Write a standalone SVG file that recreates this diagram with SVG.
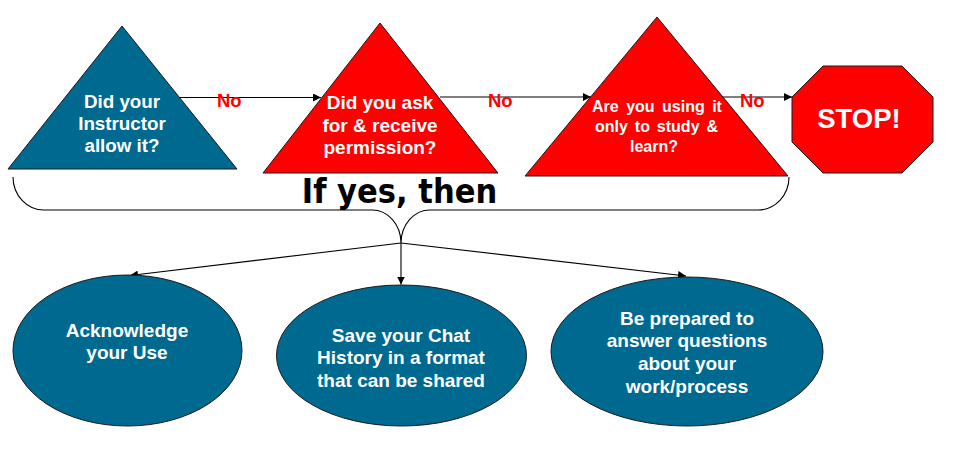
<svg xmlns="http://www.w3.org/2000/svg" width="960" height="453" viewBox="0 0 960 453">
<defs>
<style>
.blue{fill:#00698F;stroke:#1a1a1a;stroke-width:1}
.red{fill:#FF0000;stroke:#1a1a1a;stroke-width:1}
.t{font-family:"Liberation Sans",Arial,sans-serif;font-weight:bold;fill:#FFFFFF;text-anchor:middle}
.no{font-family:"Liberation Sans",Arial,sans-serif;font-weight:bold;fill:#FF0000;font-size:18.5px}
.ln{fill:none;stroke:#000;stroke-width:1.1}
</style>
<marker id="ah" viewBox="0 0 10 10" refX="10" refY="5" markerWidth="8" markerHeight="8" markerUnits="userSpaceOnUse" orient="auto">
<path d="M0,0 L10,5 L0,10 z" fill="#000"/>
</marker>
</defs>
<rect width="960" height="453" fill="#FFFFFF"/>
<g id="connectors">
<line class="ln" x1="180" y1="97.5" x2="321" y2="97.5" marker-end="url(#ah)"/>
<line class="ln" x1="440" y1="97" x2="591" y2="97" marker-end="url(#ah)" stroke="#555"/>
<line class="ln" x1="723" y1="97" x2="792" y2="97" marker-end="url(#ah)" stroke="#555"/>
<path class="ln" d="M13,177 A31,33 0 0 0 44,210 L372,210 A29,33 0 0 1 401,243 A29,33 0 0 1 430,210 L758,210 A31,33 0 0 0 789,177"/>
<line class="ln" x1="401" y1="243" x2="130" y2="275.5" marker-end="url(#ah)"/>
<line class="ln" x1="401" y1="243" x2="401" y2="284.5" marker-end="url(#ah)"/>
<line class="ln" x1="401" y1="243" x2="686" y2="276" marker-end="url(#ah)"/>
<text class="no" x="217" y="106.5">No</text>
<text class="no" x="488" y="106.5">No</text>
<text class="no" x="740" y="106.5">No</text>
<text x="399.5" y="203" font-family="'DejaVu Sans Condensed','DejaVu Sans',sans-serif" font-weight="bold" font-stretch="condensed" font-size="34" fill="#000" text-anchor="middle">If yes, then</text>
</g>
<g id="q1">
<polygon class="blue" points="122,26 237,169 8,169"/>
<text class="t" font-size="18.8"><tspan x="122" y="108">Did your</tspan><tspan x="122" y="130">Instructor</tspan><tspan x="122" y="152">allow it?</tspan></text>
</g>
<g id="q2">
<polygon class="red" points="380,23 498,173 263,173"/>
<text class="t" font-size="19"><tspan x="380" y="109">Did you ask</tspan><tspan x="380" y="132">for &amp; receive</tspan><tspan x="380" y="154">permission?</tspan></text>
</g>
<g id="q3">
<polygon class="red" points="657,17 788,176 525,176"/>
<text class="t" font-size="16"><tspan x="657" y="112" word-spacing="3">Are you using it</tspan><tspan x="656.5" y="132" word-spacing="2.5">only to study &amp;</tspan><tspan x="654" y="152">learn?</tspan></text>
</g>
<g id="stop">
<polygon class="red" points="823,66 902,66 933,97 933,142 902,173 823,173 792,142 792,97"/>
<text class="t" font-size="27.5" x="859" y="128">STOP!</text>
</g>
<g id="a1">
<ellipse class="blue" cx="127.5" cy="350.5" rx="114.5" ry="75.5"/>
<text class="t" font-size="19"><tspan x="127" y="337">Acknowledge</tspan><tspan x="127" y="359">your Use</tspan></text>
</g>
<g id="a2">
<ellipse class="blue" cx="401.5" cy="355.5" rx="125" ry="70.5"/>
<text class="t" font-size="19"><tspan x="401" y="342">Save your Chat</tspan><tspan x="401" y="364">History in a format</tspan><tspan x="401" y="387">that can be shared</tspan></text>
</g>
<g id="a3">
<ellipse class="blue" cx="687" cy="351.5" rx="136" ry="74.5"/>
<text class="t" font-size="19"><tspan x="687" y="325">Be prepared to</tspan><tspan x="687" y="347">answer questions</tspan><tspan x="687" y="370">about your</tspan><tspan x="687" y="393">work/process</tspan></text>
</g>
</svg>
